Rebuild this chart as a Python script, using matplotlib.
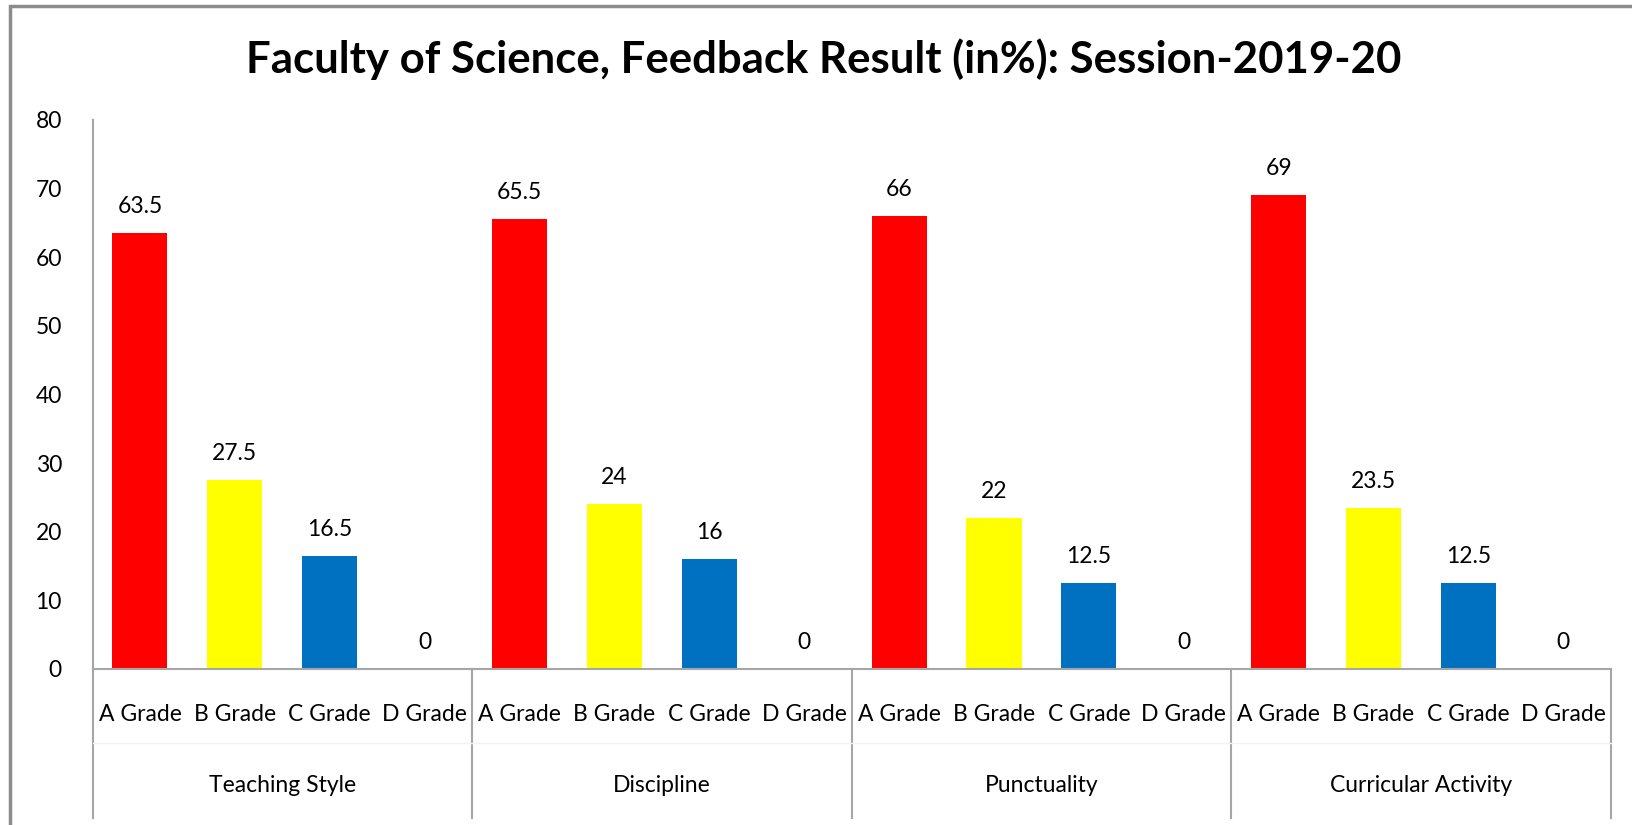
import matplotlib.pyplot as plt
from matplotlib.patches import Rectangle

# data
groups = ['Teaching Style', 'Discipline', 'Punctuality', 'Curricular Activity']
grades = ['A Grade', 'B Grade', 'C Grade', 'D Grade']
a_grade = [63.5, 65.5, 66, 69]
b_grade = [27.5, 24, 22, 23.5]
c_grade = [16.5, 16, 12.5, 12.5]
d_grade = [0, 0, 0, 0]
colors = ['#FF0000', '#FFFF00', '#0070C0', '#A5A5A5']

plt.rcParams['font.family'] = ['Lato', 'DejaVu Sans']

fig = plt.figure(figsize=(16.32, 8.25), dpi=100)
ax = fig.add_axes([0.0567, 0.1891, 0.9303, 0.6658])

series = [a_grade, b_grade, c_grade, d_grade]
n = len(grades)
positions, labels = [], []
for gi in range(len(groups)):
    for si in range(n):
        x = gi * n + si
        v = series[si][gi]
        ax.bar(x, v, width=0.58, color=colors[si])
        ax.annotate('{:g}'.format(v), (x, v), xytext=(0, 19), textcoords='offset points',
                    ha='center', va='center', fontsize=16.5)
        positions.append(x)
        labels.append(grades[si])

ax.set_xlim(-0.5, len(groups) * n - 0.5)
ax.set_ylim(0, 80)
ax.set_yticks(range(0, 81, 10))
ax.set_xticks(positions)
ax.set_xticklabels(labels, fontsize=16.5)
ax.tick_params(axis='x', length=0, pad=25)
ax.tick_params(axis='y', length=0, pad=22, labelsize=16.5)

for s in ['top', 'right']:
    ax.spines[s].set_visible(False)
ax.spines['left'].set_color('#A6A6A6')
ax.spines['bottom'].set_color('#A6A6A6')
ax.spines['left'].set_linewidth(1.5)
ax.spines['bottom'].set_linewidth(1.5)

# multi-level category axis
tr = ax.get_xaxis_transform()
for gi in range(len(groups) + 1):
    xb = gi * n - 0.5
    ax.plot([xb, xb], [0, -0.272], transform=tr, color='#A6A6A6', lw=1.5, clip_on=False)
ax.plot([-0.5, len(groups) * n - 0.5], [-0.135, -0.135], transform=tr,
        color='#F2F2F2', lw=1, clip_on=False)
for gi, g in enumerate(groups):
    ax.text(gi * n + (n - 1) / 2, -0.213, g, transform=tr, ha='center', va='center',
            fontsize=16.5)

fig.suptitle('Faculty of Science, Feedback Result (in%): Session-2019-20',
             x=0.505, y=0.928, fontsize=31.5, fontweight='bold', va='center')

# chart area border
fig.patches.append(Rectangle((0.006, -0.05), 1.1, 1.043, transform=fig.transFigure,
                             fill=False, edgecolor='#8C8C8C', lw=2.5))

fig.savefig('out.png', dpi=100)
